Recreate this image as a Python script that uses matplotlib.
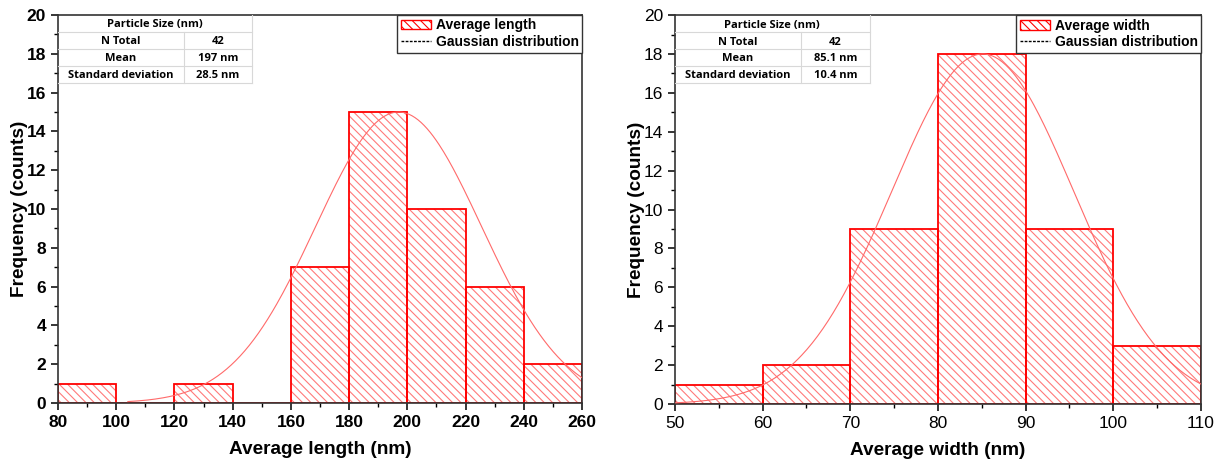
"""
Particle size histograms (length and width) with Gaussian fits.
"""

import numpy as np
import matplotlib.pyplot as plt
from matplotlib.lines import Line2D
from matplotlib.patches import Patch
from matplotlib.ticker import MultipleLocator

# Data
# ----------------------------------------------------------------------------

length_edges = [80, 100, 120, 140, 160, 180, 200, 220, 240, 260]
length_counts = [1, 0, 1, 0, 7, 15, 10, 6, 2]
length_fit = {'peak': 15.0, 'mean': 197.0, 'sd': 28.5, 'start': 104}
length_table = [['N Total', '42'], ['Mean', '197 nm'], ['Standard deviation', '28.5 nm']]

width_edges = [50, 60, 70, 80, 90, 100, 110]
width_counts = [1, 2, 9, 18, 9, 3]
width_fit = {'peak': 18.0, 'mean': 85.1, 'sd': 10.4, 'start': 50}
width_table = [['N Total', '42'], ['Mean', '85.1 nm'], ['Standard deviation', '10.4 nm']]

# Plot
# ----------------------------------------------------------------------------

plt.rcParams['font.family'] = ['Liberation Sans', 'DejaVu Sans']
plt.rcParams['hatch.linewidth'] = 0.8

RED = '#ff0000'
HATCH = '#ff7a7a'


def panel(ax, edges, counts, fit, rows, xlabel, legend_label, xmajor, xminor, bold_ticks):
    edges = np.asarray(edges, dtype=float)
    widths = np.diff(edges)
    ax.bar(edges[:-1], counts, width=widths, align='edge', fill=False,
           hatch='\\\\\\\\', edgecolor=HATCH, linewidth=0, zorder=1)
    ax.bar(edges[:-1], counts, width=widths, align='edge', fill=False,
           edgecolor=RED, linewidth=1.3, zorder=2)

    x = np.linspace(fit['start'], edges[-1], 300)
    y = fit['peak'] * np.exp(-0.5 * ((x - fit['mean']) / fit['sd']) ** 2)
    ax.plot(x, y, color='#ff6a6a', linewidth=0.8, zorder=3)

    ax.set_xlim(edges[0], edges[-1])
    ax.set_ylim(0, 20)
    ax.xaxis.set_major_locator(MultipleLocator(xmajor))
    ax.xaxis.set_minor_locator(MultipleLocator(xminor))
    ax.yaxis.set_major_locator(MultipleLocator(2))
    ax.yaxis.set_minor_locator(MultipleLocator(1))
    ax.tick_params(which='major', direction='out', length=5, width=1.1,
                   labelsize=12.5)
    ax.tick_params(which='minor', direction='out', length=3, width=1.0)
    if bold_ticks:
        for lab in ax.get_xticklabels() + ax.get_yticklabels():
            lab.set_fontweight('bold')
    for sp in ax.spines.values():
        sp.set_linewidth(1.2)
        sp.set_color('#333333')
    ax.set_xlabel(xlabel, fontsize=13.7, fontweight='bold', labelpad=8)
    ax.set_ylabel('Frequency (counts)', fontsize=13.7, fontweight='bold', labelpad=-1)

    handles = [Patch(facecolor='white', edgecolor=RED, hatch='\\\\\\\\', linewidth=1.0),
               Line2D([], [], color='black', linestyle=(0, (2, 1)), linewidth=1.0)]
    leg = ax.legend(handles, [legend_label, 'Gaussian distribution'], loc='upper right',
                    bbox_to_anchor=(1, 1), borderaxespad=0, fancybox=False,
                    framealpha=1, edgecolor='#333333', handlelength=2.2,
                    handletextpad=0.3, borderpad=0.25, labelspacing=0.2,
                    prop={'weight': 'bold', 'size': 10})
    leg.get_frame().set_linewidth(1.0)
    leg.set_zorder(5)

    # stats table in the upper left corner
    row_h = 0.0435
    c1, c2 = 0.24, 0.13
    tfont = dict(fontsize=8, fontweight='bold', family=['Open Sans', 'DejaVu Sans'],
                 ha='center', va='center', transform=ax.transAxes, zorder=6)
    ax.text((c1 + c2) / 2, 1 - row_h / 2 - 0.004, 'Particle Size (nm)', **tfont)
    for i, (name, val) in enumerate(rows):
        yc = 1 - row_h * (i + 1.5) - 0.004
        ax.text(c1 / 2, yc, name, **tfont)
        ax.text(c1 + c2 / 2, yc, val, **tfont)
    for i in range(1, 5):
        ax.plot([0, c1 + c2], [1 - row_h * i] * 2, color='#d8d8d8', linewidth=0.8,
                transform=ax.transAxes, clip_on=False, zorder=6)
    ax.plot([c1, c1], [1 - row_h, 1 - 4 * row_h], color='#d8d8d8', linewidth=0.8,
            transform=ax.transAxes, zorder=6)
    ax.plot([c1 + c2] * 2, [1, 1 - 4 * row_h], color='#d8d8d8', linewidth=0.8,
            transform=ax.transAxes, zorder=6)


fig = plt.figure(figsize=(12.23, 4.63), dpi=100)
ax1 = fig.add_axes([0.0474, 0.1296, 0.4285, 0.838])
ax2 = fig.add_axes([0.5519, 0.1274, 0.4301, 0.840])

panel(ax1, length_edges, length_counts, length_fit, length_table,
      'Average length (nm)', 'Average length', 20, 10, True)
panel(ax2, width_edges, width_counts, width_fit, width_table,
      'Average width (nm)', 'Average width', 10, 5, False)

fig.savefig('out.png', dpi=100)
